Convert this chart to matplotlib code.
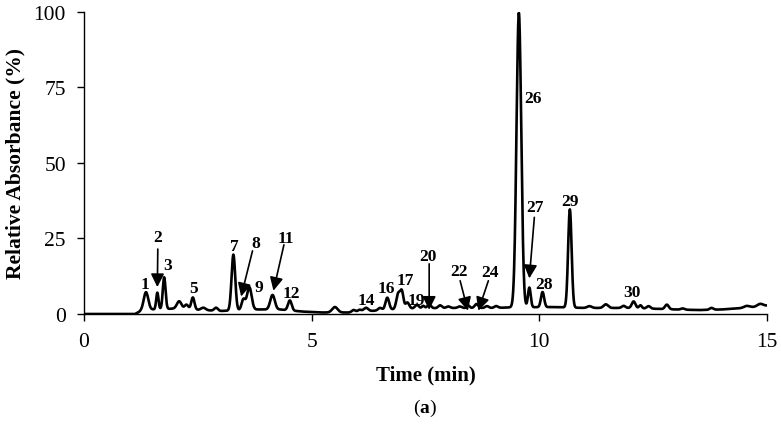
import numpy as np
import matplotlib
matplotlib.use("Agg")
import matplotlib.pyplot as plt

# ---- data ----
peak_times   = [1.36, 1.61, 1.76, 2.09, 2.25, 2.39, 2.62, 2.90, 3.28, 3.50, 3.63, 4.14, 4.52,
                5.51, 5.92, 6.05, 6.19, 6.50, 6.66, 6.90, 6.98, 7.10, 7.31, 7.45, 7.58, 7.82,
                8.00, 8.25, 8.44, 8.62, 8.85, 9.05, 9.55, 9.78, 10.07, 10.67, 11.10, 11.46,
                11.85, 12.07, 12.22, 12.40, 12.80, 13.15, 13.78, 14.55, 14.85]
peak_heights = [6.0, 5.5, 10.5, 2.5, 1.5, 4.0, 0.8, 1.0, 18.5, 3.5, 7.5, 4.8, 3.3,
                1.8, 0.8, 0.7, 1.2, 0.8, 4.0, 5.0, 5.5, 2.0, 1.2, 0.8, 1.2, 0.9,
                0.5, 0.5, 0.8, 1.3, 0.6, 0.6, 97.5, 6.5, 5.0, 32.5, 0.6, 1.2,
                0.7, 2.2, 1.0, 0.8, 1.5, 0.4, 0.6, 0.6, 0.8]
peak_widths  = [0.05, 0.025, 0.03, 0.05, 0.04, 0.035, 0.05, 0.04, 0.04, 0.04, 0.05, 0.05, 0.04,
                0.06, 0.04, 0.04, 0.05, 0.04, 0.04, 0.04, 0.035, 0.04, 0.04, 0.03, 0.04, 0.04,
                0.04, 0.04, 0.03, 0.04, 0.04, 0.04, 0.052, 0.03, 0.035, 0.038, 0.05, 0.05,
                0.04, 0.04, 0.03, 0.04, 0.04, 0.04, 0.04, 0.06, 0.06]

base_times  = [0, 1.12, 1.25, 1.5, 2.0, 2.6, 3.0, 3.8, 4.3, 4.8, 5.2, 5.9, 6.3, 7.0, 8.0,
               9.0, 9.4, 10.3, 11.0, 12.0, 13.0, 13.5, 14.0, 14.5, 15.0]
base_levels = [0, 0, 1.0, 1.5, 1.8, 1.3, 1.0, 1.5, 1.5, 0.8, 0.5, 0.5, 1.0, 1.8, 2.0,
               2.0, 2.2, 2.3, 2.0, 2.0, 1.5, 1.3, 1.5, 2.0, 2.8]

label_texts = ["1", "2", "3", "5", "7", "8", "9", "11", "12", "14", "16", "17", "19",
               "20", "22", "24", "26", "27", "28", "29", "30"]
label_x = [1.34, 1.62, 1.83, 2.40, 3.29, 3.77, 3.83, 4.43, 4.55, 6.21, 6.65, 7.05, 7.29,
           7.56, 8.24, 8.92, 9.85, 9.91, 10.11, 10.67, 12.04]
label_y = [9.9, 25.4, 16.1, 8.5, 22.4, 23.5, 8.8, 25.1, 6.95, 4.7, 8.5, 11.2, 4.7,
           19.3, 14.3, 14.0, 71.5, 35.3, 9.9, 37.5, 7.2]

arrow_tail_x = [1.62, 3.70, 4.39, 7.58, 8.26, 8.88, 9.89]
arrow_tail_y = [21.5, 20.9, 22.9, 16.6, 11.0, 11.0, 32.0]
arrow_head_x = [1.61, 3.45, 4.16, 7.58, 8.43, 8.66, 9.78]
arrow_head_y = [8.9, 5.8, 7.7, 1.4, 1.1, 1.1, 11.8]

x_ticks = [0, 5, 10, 15]
y_ticks = [0, 25, 50, 75, 100]

# ---- build the trace ----
t = np.linspace(0, 15, 3001)
signal = np.interp(t, base_times, base_levels)
for pt, ph, pw in zip(peak_times, peak_heights, peak_widths):
    signal = signal + ph * np.exp(-0.5 * ((t - pt) / pw) ** 2)

plt.rcParams['font.family'] = ['Liberation Serif', 'DejaVu Serif']
plt.rcParams['mathtext.fontset'] = 'custom'
plt.rcParams['mathtext.rm'] = 'Liberation Serif'
plt.rcParams['mathtext.bf'] = 'Liberation Serif:bold'

fig = plt.figure(figsize=(7.81, 4.27), dpi=100)
ax = fig.add_axes([0.1076, 0.2623, 0.8745, 0.7073])
ax.plot(t, signal, color='black', lw=1.9, solid_joinstyle='round')

ax.set_xlim(0, 15)
ax.set_ylim(0, 100)
ax.set_xticks(x_ticks)
ax.set_yticks(y_ticks)
ax.tick_params(axis='both', direction='out', length=5, width=1, labelsize=15.5, pad=8)
for s in ['top', 'right']:
    ax.spines[s].set_visible(False)
for s in ['left', 'bottom']:
    ax.spines[s].set_linewidth(1.0)
ax.spines['bottom'].set_zorder(0)

ax.set_xlabel('Time (min)', fontsize=15, fontweight='bold', labelpad=10)
ax.set_ylabel('Relative Absorbance (%)', fontsize=15.5, fontweight='bold', labelpad=6)

for txt, lx, ly in zip(label_texts, label_x, label_y):
    ax.text(lx, ly, txt, ha='center', va='center', fontsize=12.5, fontweight='bold')

for tx, ty, hx, hy in zip(arrow_tail_x, arrow_tail_y, arrow_head_x, arrow_head_y):
    ax.annotate('', xy=(hx, hy), xytext=(tx, ty),
                arrowprops=dict(arrowstyle='-|>,head_length=0.8,head_width=0.4',
                                color='black', lw=1.2, shrinkA=0, shrinkB=0))

fig.text(0.544, 0.044, r'$\mathrm{(}\mathbf{a}\mathrm{)}$', ha='center', va='center', fontsize=14)

fig.savefig('out.png', dpi=100)
